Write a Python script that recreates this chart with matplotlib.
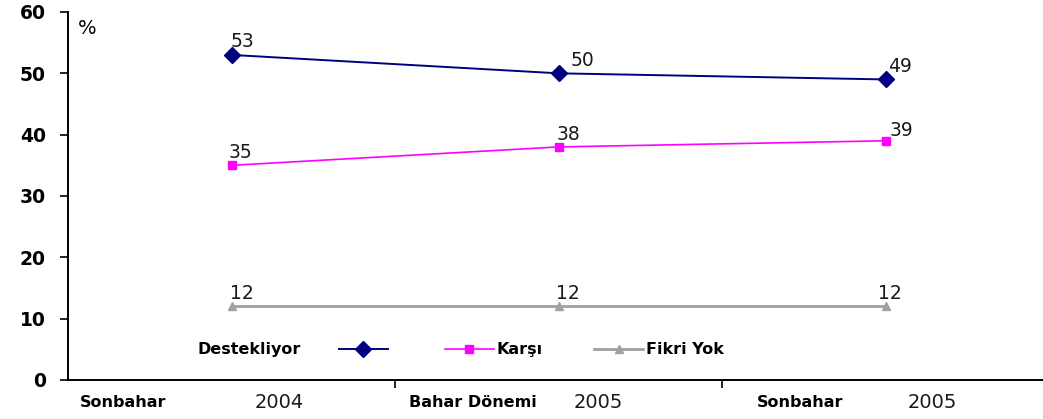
import matplotlib
matplotlib.use("Agg")
from matplotlib import pyplot as plt

plt.rcParams['font.family'] = ['DejaVu Sans']

# data
period_names = ["Sonbahar", "Bahar Dönemi", "Sonbahar"]
period_years = ["2004", "2005", "2005"]
destekliyor = [53, 50, 49]
karsi = [35, 38, 39]
fikri_yok = [12, 12, 12]

PX = 0.72  # points per pixel at dpi 100

fig = plt.figure(figsize=(10.43, 4.19), dpi=100)
ax = fig.add_axes([0.0652, 0.0931, 0.9406, 0.8783])

x = list(range(len(period_names)))
l1, = ax.plot(x, destekliyor, color='#000080', lw=1.4, marker='D', ms=8, label='Destekliyor')
l2, = ax.plot(x, karsi, color='#FF00FF', lw=1.2, marker='s', ms=6, label='Karşı')
l3, = ax.plot(x, fikri_yok, color='#A0A0A0', lw=2, marker='^', ms=6, label='Fikri Yok')

# value labels, offsets (px) of the text's lower left corner from the point
offs = [
    (destekliyor, [(-1, 8), (12, 7), (3, 7)]),
    (karsi, [(-3, 7), (-2, 7), (4, 5)]),
    (fikri_yok, [(-2, 7), (-3, 7), (-8, 7)]),
]
for vals, oo in offs:
    for xi, v, (dx, dy) in zip(x, vals, oo):
        ax.annotate(str(v), (xi, v), xytext=(dx * PX, dy * PX), textcoords='offset points',
                    fontsize=13.5, ha='left', va='baseline', color='#1a1a1a')

ax.set_xlim(-0.5, 2.5)
ax.set_ylim(0, 60)
ax.set_yticks(range(0, 61, 10))
ax.tick_params(axis='y', labelsize=13.5, length=6, width=1.2, direction='out', pad=10)
for t in ax.get_yticklabels():
    t.set_fontweight('bold')
ax.set_xticks([0.5, 1.5])
ax.set_xticklabels([])
ax.tick_params(axis='x', length=6, width=1.2, direction='out')
for s in ('top', 'right'):
    ax.spines[s].set_visible(False)
ax.spines['left'].set_linewidth(1.4)
ax.spines['bottom'].set_linewidth(1.4)

ax.text(0.0105, 0.955, '%', transform=ax.transAxes, fontsize=14, va='center', ha='left')

# category labels below the axis (offsets in px from category centre)
name_dx = [-152, -150, -129]
year_dx = [23, 15, 22]
for xi, name, yr, ndx, ydx in zip(x, period_names, period_years, name_dx, year_dx):
    ax.annotate(name, (xi, 0), xytext=(ndx * PX, -23 * PX), textcoords='offset points',
                fontsize=11.5, fontweight='bold', va='center', ha='left')
    ax.annotate(yr, (xi, 0), xytext=(ydx * PX, -23 * PX), textcoords='offset points',
                fontsize=14, va='center', ha='left', color='#1a1a1a')

# legend: first entry text before marker, the rest marker first
legprop = {'weight': 'bold', 'size': 11.5}
leg1 = ax.legend(handles=[l1], loc='center left', bbox_to_anchor=(0.1315, 0.082),
                 frameon=False, markerfirst=False, handlelength=3.1, borderpad=0,
                 borderaxespad=0, prop=legprop, handletextpad=2.4)
ax.add_artist(leg1)
ax.legend(handles=[l2, l3], loc='center left', bbox_to_anchor=(0.384, 0.082),
          frameon=False, ncol=2, handlelength=3.1, columnspacing=3.2, borderpad=0,
          borderaxespad=0, prop=legprop, handletextpad=0.15)

fig.savefig('out.png', dpi=100)
